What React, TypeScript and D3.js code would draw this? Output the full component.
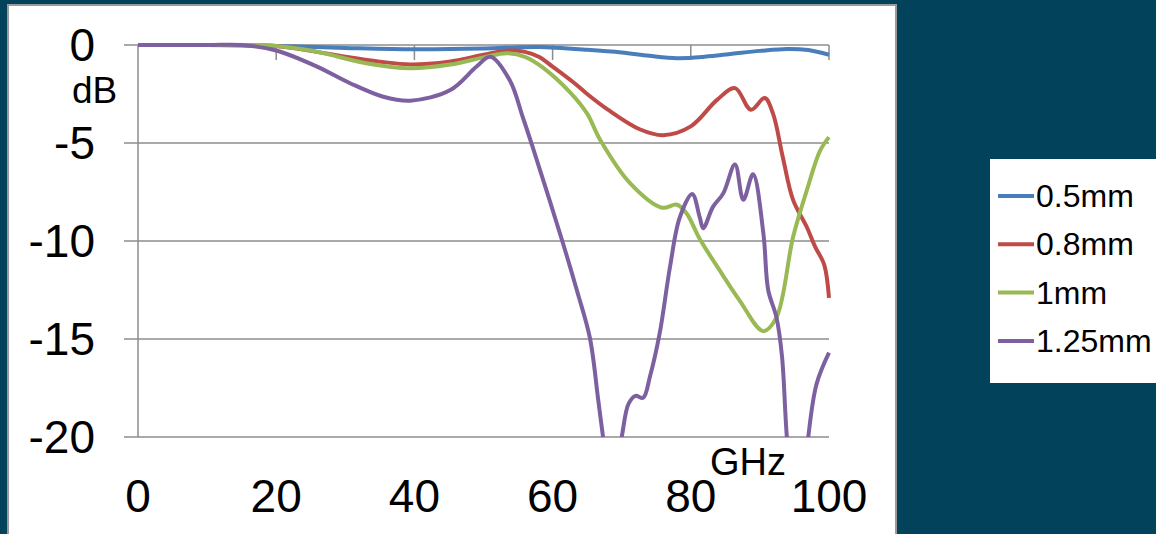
import React, { useEffect, useRef } from "react";
import * as d3 from "d3";

// frequency (GHz) / attenuation (dB)
const freq05 = [0, 10, 20, 30, 40, 50, 55, 58, 65, 70, 74, 78, 82, 86, 90, 94, 97, 100];
const db05 = [0, 0, -0.05, -0.15, -0.22, -0.18, -0.12, -0.1, -0.24, -0.38, -0.55, -0.67, -0.6, -0.45, -0.3, -0.2, -0.26, -0.5];

const freq08 = [0, 10, 15, 20, 25, 30, 35, 39.4, 45, 50, 53.4, 56, 58, 60, 63, 65, 68, 72.6, 76, 80, 83.8, 86.4, 88.7, 90.7, 91.9, 93.3, 94.8, 96.8, 98, 99.3, 100];
const db08 = [0, 0, 0, -0.05, -0.3, -0.6, -0.85, -0.99, -0.85, -0.5, -0.29, -0.35, -0.6, -1.1, -1.9, -2.5, -3.3, -4.3, -4.6, -4.15, -2.8, -2.2, -3.3, -2.7, -3.5, -5.7, -7.9, -9.3, -10.3, -11.2, -12.9];

const freq1 = [0, 10, 15, 20, 25.9, 33, 39.4, 45.2, 50, 53.4, 56, 58.6, 62.5, 65, 66.9, 71.2, 75.8, 78, 79.4, 81.3, 84, 87, 90.5, 92.4, 94.8, 96.8, 98.7, 100];
const db1 = [0, 0, 0, -0.05, -0.34, -0.93, -1.19, -1.0, -0.63, -0.42, -0.6, -1.15, -2.4, -3.5, -4.85, -7.05, -8.3, -8.15, -8.6, -9.9, -11.4, -13.0, -14.6, -13.9, -9.8, -7.4, -5.4, -4.7];

const freq125 = [0, 10, 15, 20, 25.9, 30.7, 35.5, 39.4, 45.2, 49, 51, 53.8, 55.7, 57.2, 61.4, 63.5, 65.4, 66.6, 67.3, 68.5, 70, 71, 72, 73.1, 74.1, 75.5, 77, 78.4, 80.2, 81.3, 81.8, 83.2, 84.7, 86.4, 87.6, 89, 90.5, 91.2, 92.4, 93.2, 93.9, 95, 96.5, 97, 98.2, 100];
const db125 = [0, 0, 0, -0.28, -1.1, -1.95, -2.64, -2.84, -2.3, -1.1, -0.6, -1.8, -3.7, -5.3, -10, -12.5, -14.95, -18.1, -20, -23, -20, -18.3, -17.9, -18, -16.9, -14.7, -11.3, -8.8, -7.6, -8.8, -9.35, -8.26, -7.57, -6.1, -7.9, -6.6, -9.6, -12.5, -13.9, -15.9, -20, -24, -22, -20, -17.3, -15.7];

const seriesNames = ["0.5mm", "0.8mm", "1mm", "1.25mm"];
const seriesColors = ["#4a7ebb", "#be4b48", "#98b954", "#7d60a0"];
const xTicks = [0, 20, 40, 60, 80, 100];
const yTicks = [0, -5, -10, -15, -20];

const W = 1156;
const H = 534;
const FONT = "Arial, 'Liberation Sans', sans-serif";

export default function App() {
  const ref = useRef<SVGSVGElement>(null);

  useEffect(() => {
    const svg = d3.select(ref.current);
    svg.selectAll("*").remove();

    const x = d3.scaleLinear().domain([0, 100]).range([138, 829]);
    const y = d3.scaleLinear().domain([-20, 0]).range([437, 45]);

    svg.append("rect").attr("width", W).attr("height", H).attr("fill", "#02435b");

    // chart panel
    svg.append("rect")
      .attr("x", 8).attr("y", 5).attr("width", 888).attr("height", 540)
      .attr("fill", "#fff").attr("stroke", "#9a9a9a").attr("stroke-width", 2);

    // gridlines
    svg.append("g").selectAll("line").data(yTicks).enter().append("line")
      .attr("x1", 124).attr("x2", x(100))
      .attr("y1", (d) => y(d)).attr("y2", (d) => y(d))
      .attr("stroke", "#8c8c8c").attr("stroke-width", 1.5);

    // vertical axis
    svg.append("line")
      .attr("x1", x(0)).attr("x2", x(0)).attr("y1", y(0)).attr("y2", y(-20))
      .attr("stroke", "#8c8c8c").attr("stroke-width", 1.5);

    // x tick marks on the 0 dB line
    svg.append("g").selectAll("line").data(xTicks.slice(1)).enter().append("line")
      .attr("x1", (d) => x(d)).attr("x2", (d) => x(d))
      .attr("y1", y(0)).attr("y2", y(0) + 15)
      .attr("stroke", "#8c8c8c").attr("stroke-width", 1.5);

    // y labels
    svg.append("g").selectAll("text").data(yTicks).enter().append("text")
      .attr("x", 95).attr("y", (d) => y(d) + 16)
      .attr("text-anchor", "end")
      .attr("font-family", FONT).attr("font-size", 46)
      .text((d) => String(d));

    // x labels
    svg.append("g").selectAll("text").data(xTicks).enter().append("text")
      .attr("x", (d) => x(d)).attr("y", 512)
      .attr("text-anchor", "middle")
      .attr("font-family", FONT).attr("font-size", 46)
      .text((d) => String(d));

    svg.append("text").attr("x", 72).attr("y", 103)
      .attr("font-family", FONT).attr("font-size", 37).text("dB");
    svg.append("text").attr("x", 748).attr("y", 475).attr("text-anchor", "middle")
      .attr("font-family", FONT).attr("font-size", 38).text("GHz");

    svg.append("clipPath").attr("id", "plotclip")
      .append("rect").attr("x", 130).attr("y", 35).attr("width", 710).attr("height", y(-20) - 35);

    const line = d3.line<[number, number]>()
      .x((d) => x(d[0]))
      .y((d) => y(d[1]))
      .curve(d3.curveCatmullRom.alpha(0.5));

    const series = [
      d3.zip(freq05, db05),
      d3.zip(freq08, db08),
      d3.zip(freq1, db1),
      d3.zip(freq125, db125),
    ] as [number, number][][];

    svg.append("g").attr("clip-path", "url(#plotclip)")
      .selectAll("path").data(series).enter().append("path")
      .attr("d", (d) => line(d))
      .attr("fill", "none")
      .attr("stroke", (d, i) => seriesColors[i])
      .attr("stroke-width", 4)
      .attr("stroke-linejoin", "round");

    // legend
    const lg = svg.append("g");
    lg.append("rect").attr("x", 990).attr("y", 159).attr("width", 170).attr("height", 224).attr("fill", "#fff");
    const items = lg.selectAll("g").data(seriesNames).enter().append("g")
      .attr("transform", (d, i) => "translate(0," + (196 + i * 48.3) + ")");
    items.append("line")
      .attr("x1", 998).attr("x2", 1034).attr("y1", 0).attr("y2", 0)
      .attr("stroke", (d, i) => seriesColors[i]).attr("stroke-width", 4);
    items.append("text")
      .attr("x", 1036).attr("y", 11)
      .attr("font-family", FONT).attr("font-size", 32)
      .text((d) => d);
  }, []);

  return (
    <svg ref={ref} width={W} height={H} style={{ position: "absolute", left: 0, top: 0 }} />
  );
}
